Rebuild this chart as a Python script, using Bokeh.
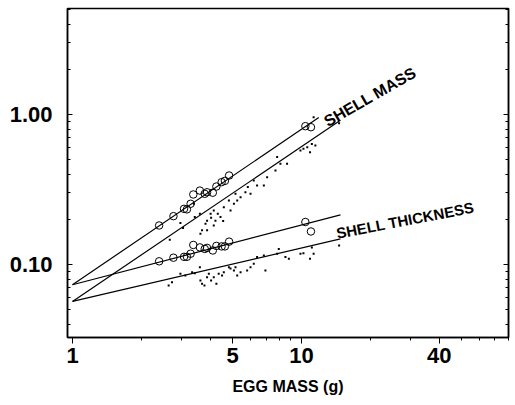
from bokeh.plotting import figure
from bokeh.models import FixedTicker, LogAxis, Range1d, PrintfTickFormatter
from bokeh.core.properties import value
from bokeh.embed import file_html
from bokeh.resources import INLINE

# eggs measured individually (open circles)
circ_egg_mass = [2.39, 2.76, 3.07, 3.16, 3.28, 3.37, 3.60, 3.78, 3.87, 4.10, 4.25, 4.48, 4.63, 4.83, 10.4, 11.0]
circ_shell_mass = [0.182, 0.210, 0.235, 0.233, 0.254, 0.293, 0.311, 0.296, 0.303, 0.301, 0.331, 0.354, 0.361, 0.392, 0.836, 0.823]
circ_shell_thick = [0.105, 0.111, 0.1125, 0.1125, 0.118, 0.135, 0.130, 0.127, 0.129, 0.124, 0.133, 0.132, 0.132, 0.142, 0.192, 0.166]

# other species (small dots)
dot_mass_x = [2.66, 2.96, 3.04, 3.42, 3.60, 3.62, 3.68, 3.81, 3.87, 4.01, 4.03, 4.14, 4.21, 4.31, 4.55,
              4.58, 4.82, 4.90, 5.07, 5.15, 5.24, 5.42, 5.69, 5.83, 5.99, 6.19, 6.40, 6.85, 7.08, 7.70,
              7.83, 8.09, 8.65, 9.90, 10.2, 10.6, 10.9, 11.1, 11.5, 11.3, 14.6, 3.39, 3.87, 4.14, 4.43]
dot_mass_y = [0.146, 0.189, 0.175, 0.207, 0.218, 0.160, 0.169, 0.187, 0.196, 0.218, 0.205, 0.229, 0.196, 0.218, 0.195,
              0.241, 0.267, 0.229, 0.254, 0.296, 0.267, 0.281, 0.303, 0.328, 0.296, 0.363, 0.336, 0.336, 0.382, 0.423,
              0.520, 0.469, 0.469, 0.575, 0.590, 0.605, 0.561, 0.637, 0.621, 0.960, 0.875, 0.254, 0.169, 0.182, 0.207]
dot_thick_x = [2.63, 2.72, 2.96, 3.11, 3.33, 3.42, 3.60, 3.62, 3.68, 3.77, 3.87, 3.94, 4.03, 4.14, 4.25,
               4.35, 4.50, 4.58, 4.82, 4.90, 5.07, 5.15, 5.24, 5.42, 5.79, 5.99, 6.19, 6.40, 6.85, 6.96,
               7.83, 7.96, 8.51, 8.81, 9.90, 10.2, 10.9, 11.1, 11.3, 14.6]
dot_thick_y = [0.0724, 0.0762, 0.0867, 0.0845, 0.0889, 0.0875, 0.0960, 0.0781, 0.0743, 0.0724, 0.0823, 0.0867, 0.0781, 0.0823, 0.0743,
               0.0867, 0.0845, 0.0889, 0.0960, 0.0940, 0.0912, 0.0960, 0.0845, 0.0889, 0.0912, 0.0960, 0.101, 0.112, 0.115, 0.0912,
               0.118, 0.127, 0.112, 0.109, 0.118, 0.119, 0.109, 0.130, 0.118, 0.134]

# regression lines (end points)
fit_mass_circ_x, fit_mass_circ_y = [1.0, 11.9], [0.0733, 0.955]
fit_mass_dot_x, fit_mass_dot_y = [1.0, 14.8], [0.0567, 0.915]
fit_thick_circ_x, fit_thick_circ_y = [1.0, 14.8], [0.0733, 0.214]
fit_thick_dot_x, fit_thick_dot_y = [1.0, 14.8], [0.0567, 0.148]

x_ticks = [1, 5, 10, 40]
x_minor = [2, 3, 4, 6, 7, 8, 9, 20, 30, 50, 60, 70, 80]
y_ticks = [0.1, 1.0]
y_minor = [0.04, 0.05, 0.06, 0.07, 0.08, 0.09, 0.2, 0.3, 0.4, 0.5, 0.6, 0.7, 0.8, 0.9, 2, 3, 4, 5]

FONT = "Liberation Sans"

p = figure(width=515, height=405, x_axis_type="log", y_axis_type="log",
           x_range=Range1d(0.951, 80.2), y_range=Range1d(0.0326, 5.09),
           output_backend="svg", toolbar_location=None,
           min_border_left=67, min_border_right=7, min_border_top=8, min_border_bottom=68)
p.xgrid.visible = False
p.ygrid.visible = False
p.outline_line_color = "black"
p.outline_line_width = 1.5
p.outline_line_alpha = 1

xa = p.xaxis[0]
xa.ticker = FixedTicker(ticks=x_ticks, minor_ticks=x_minor)
xa.formatter = PrintfTickFormatter(format="%d")
xa.major_label_text_font = FONT
xa.major_label_text_font_style = "bold"
xa.major_label_text_font_size = "22px"
xa.major_label_text_color = "black"
xa.major_tick_out = 6
xa.major_tick_in = 0
xa.minor_tick_out = 3
xa.minor_tick_in = 0
xa.major_label_standoff = 4
xa.axis_line_width = 1.5
xa.axis_label = "EGG MASS (g)"
xa.axis_label_text_font = FONT
xa.axis_label_text_font_style = "bold"
xa.axis_label_text_font_size = "16px"
xa.axis_label_text_color = "black"
xa.axis_label_standoff = 12

ya = p.yaxis[0]
ya.ticker = FixedTicker(ticks=y_ticks, minor_ticks=y_minor)
ya.formatter = PrintfTickFormatter(format="%.2f")
ya.major_label_text_font = FONT
ya.major_label_text_font_style = "bold"
ya.major_label_text_font_size = "22px"
ya.major_label_text_color = "black"
ya.major_tick_out = 0
ya.major_tick_in = 5
ya.minor_tick_out = 0
ya.minor_tick_in = 3
ya.major_label_standoff = 15
ya.axis_line_width = 1.5

ra = LogAxis(ticker=FixedTicker(ticks=y_ticks, minor_ticks=y_minor),
             major_label_text_font_size="1px", major_label_text_alpha=0,
             major_label_standoff=0,
             major_tick_out=0, major_tick_in=5, minor_tick_out=0, minor_tick_in=3,
             axis_line_width=1.5)
p.add_layout(ra, "right")

for lx, ly in [(fit_mass_circ_x, fit_mass_circ_y), (fit_mass_dot_x, fit_mass_dot_y),
               (fit_thick_circ_x, fit_thick_circ_y), (fit_thick_dot_x, fit_thick_dot_y)]:
    p.line(lx, ly, line_color="black", line_width=1.2)

p.scatter(dot_mass_x, dot_mass_y, size=2, marker="square", color="black", line_width=0)
p.scatter(dot_thick_x, dot_thick_y, size=2, marker="square", color="black", line_width=0)
p.scatter(circ_egg_mass, circ_shell_mass, size=7.5, marker="circle", fill_color=None, line_color="black", line_width=1)
p.scatter(circ_egg_mass, circ_shell_thick, size=7.5, marker="circle", fill_color=None, line_color="black", line_width=1)

p.text(x=[12.7], y=[0.884], text=["SHELL MASS"], angle=0.52,
       text_font=value(FONT), text_font_style="bold", text_font_size="16px",
       text_align="left", text_baseline="alphabetic", text_color="black")
p.text(x=[14.2], y=[0.161], text=["SHELL THICKNESS"], angle=0.19,
       text_font=value(FONT), text_font_style="bold", text_font_size="15px",
       text_align="left", text_baseline="alphabetic", text_color="black")

open("out.html", "w").write(file_html(p, INLINE))
